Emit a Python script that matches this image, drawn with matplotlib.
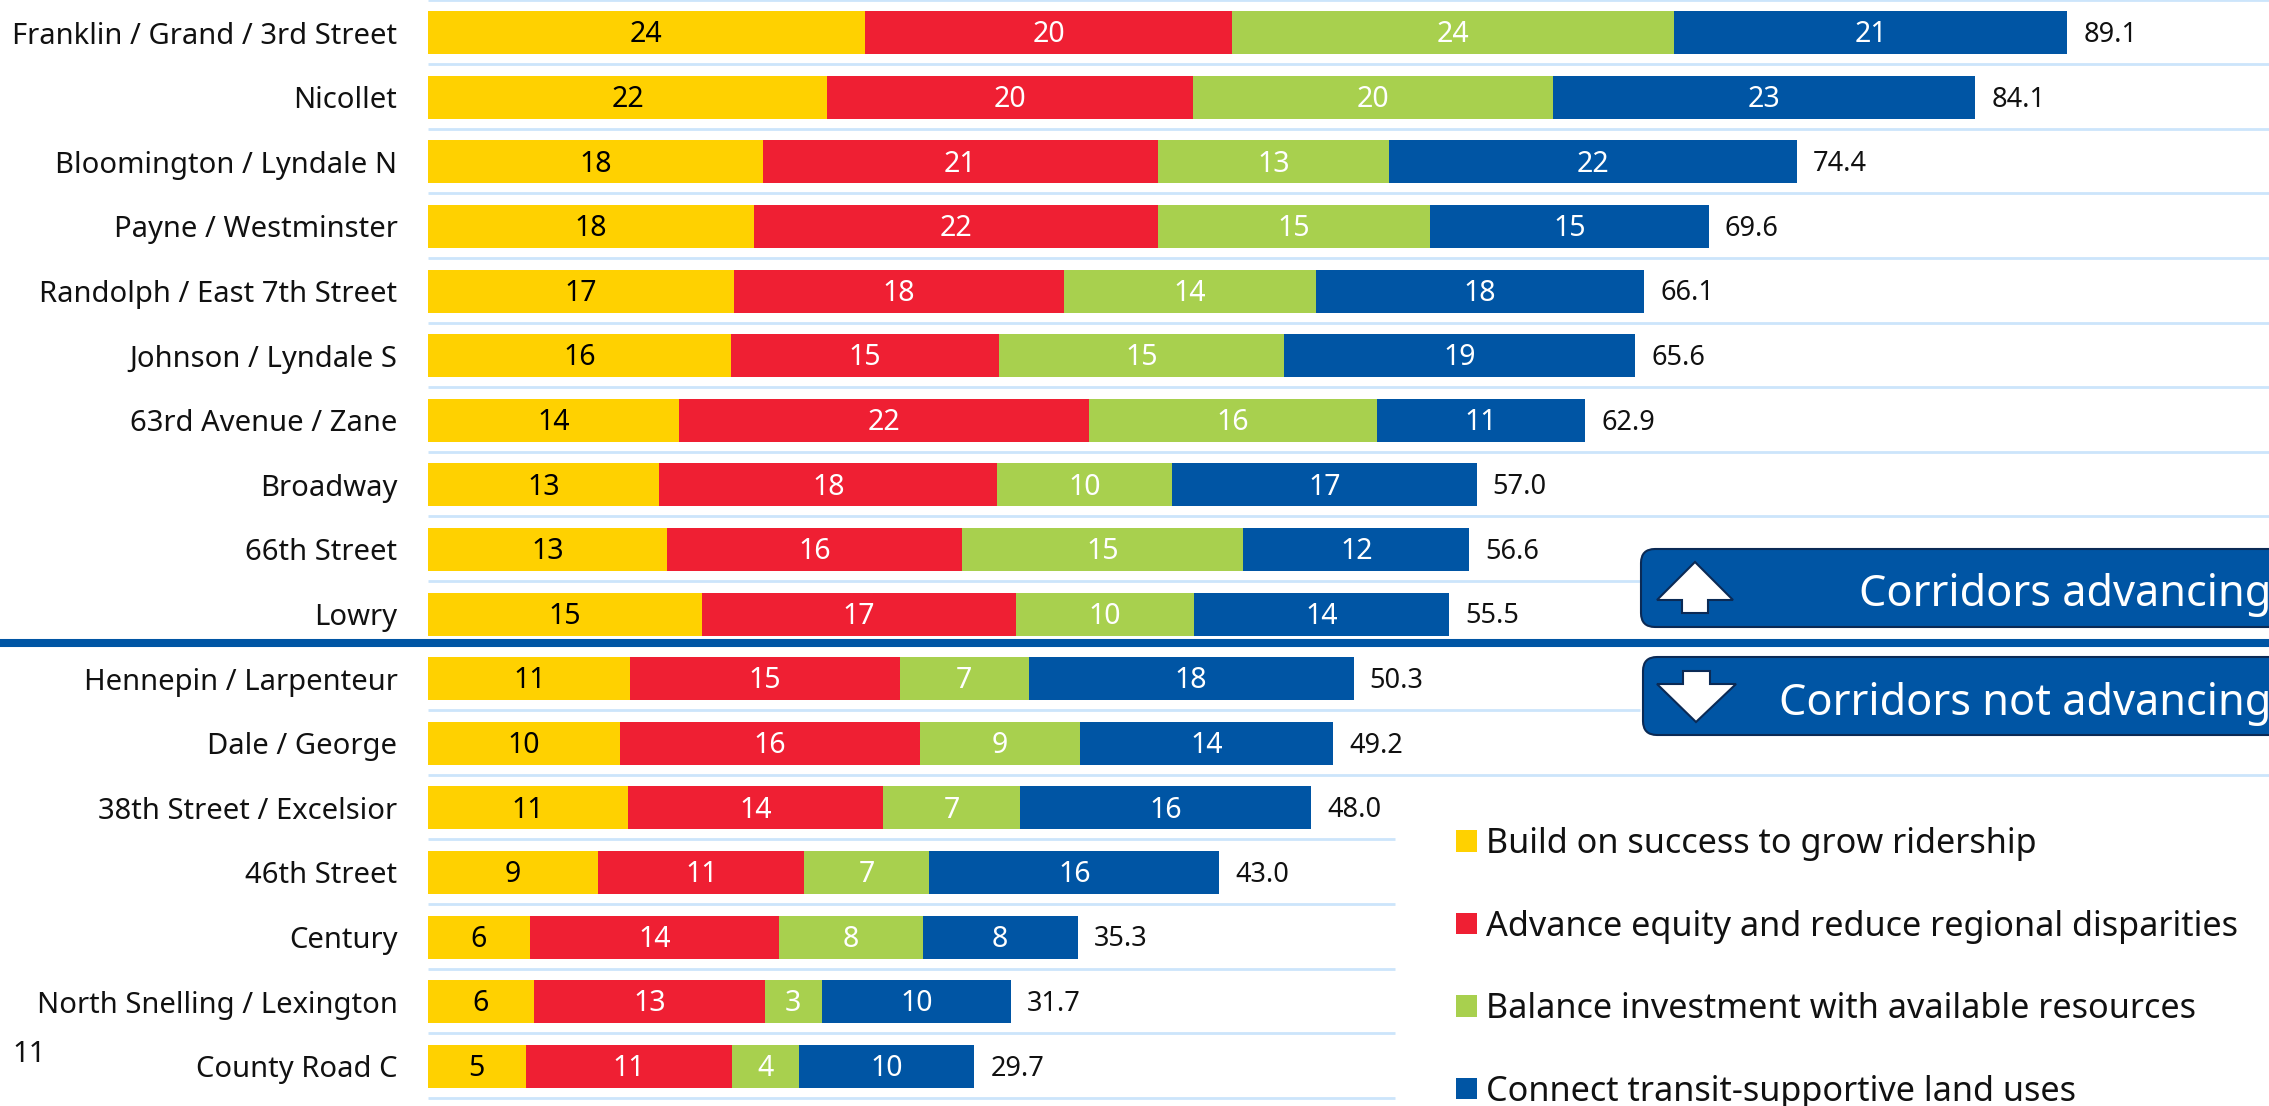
import matplotlib
matplotlib.use("Agg")
import matplotlib.pyplot as plt
from matplotlib.patches import FancyBboxPatch, Polygon, Patch
from matplotlib.transforms import Affine2D

W, H = 2269, 1106
corridors = ["Franklin / Grand / 3rd Street", "Nicollet", "Bloomington / Lyndale N", "Payne / Westminster",
             "Randolph / East 7th Street", "Johnson / Lyndale S", "63rd Avenue / Zane", "Broadway", "66th Street",
             "Lowry", "Hennepin / Larpenteur", "Dale / George", "38th Street / Excelsior", "46th Street", "Century",
             "North Snelling / Lexington", "County Road C"]
build = [23.74, 21.7, 18.2, 17.7, 16.65, 16.45, 13.65, 12.55, 13.0, 14.9, 11.0, 10.45, 10.85, 9.25, 5.55, 5.75, 5.3]
equity = [19.97, 19.9, 21.45, 21.95, 17.9, 14.6, 22.3, 18.4, 16.0, 17.05, 14.65, 16.3, 13.9, 11.2, 13.55, 12.55, 11.2]
balance = [24.03, 19.55, 12.6, 14.8, 13.7, 15.45, 15.6, 9.51, 15.3, 9.7, 7.0, 8.7, 7.4, 6.8, 7.8, 3.1, 3.65]
connect = [21.36, 22.95, 22.15, 15.15, 17.85, 19.1, 11.35, 16.54, 12.3, 13.85, 17.65, 13.75, 15.85, 15.75, 8.4, 10.3, 9.55]
totals = [89.1, 84.1, 74.4, 69.6, 66.1, 65.6, 62.9, 57.0, 56.6, 55.5, 50.3, 49.2, 48.0, 43.0, 35.3, 31.7, 29.7]
series_names = ["Build on success to grow ridership", "Advance equity and reduce regional disparities",
                "Balance investment with available resources", "Connect transit-supportive land uses"]
colors = ["#FFD100", "#EF1F33", "#A8D04E", "#0055A4"]
text_colors = ["black", "white", "white", "white"]
page_number = "11"
box_labels = ["Corridors advancing", "Corridors not advancing"]

plt.rcParams["font.family"] = ["Noto Sans", "DejaVu Sans"]
FS = 21

fig = plt.figure(figsize=(W / 100, H / 100), dpi=100)
ax = fig.add_axes([428 / W, 0, 1 - 428 / W, 1])
px_per_unit = 18.4
row_px, row0 = 64.6, 32.7
ax.set_xlim(0, (W - 428) / px_per_unit)
ax.set_ylim((H - row0) / row_px, -row0 / row_px)
for s in ax.spines.values():
    s.set_visible(False)
ax.xaxis.set_visible(False)
ax.set_yticks(range(len(corridors)), corridors, fontsize=FS, color="#111111")
ax.tick_params(axis="y", length=0, pad=22)

# pixel-based overlay transform for decorations
px = Affine2D().scale(1 / W, -1 / H).translate(0, 1) + fig.transFigure

grid_c = "#CCE5FB"
n = len(corridors)
for i in range(-1, n):
    if i == 9:
        continue
    right = W if i < 8 else (1640 if i in (8, 10) else (W if i == 11 else 1395))
    ax.plot([0, (right - 428) / px_per_unit], [i + 0.5 - 0.012] * 2, color=grid_c, lw=2.0,
            solid_capstyle="butt", zorder=1)

left = [0.0] * n
for vals, c, tc in zip([build, equity, balance, connect], colors, text_colors):
    ax.barh(range(n), vals, left=left, height=43 / row_px, color=c, zorder=2)
    for j, v in enumerate(vals):
        ax.text(left[j] + v / 2, j + 0.035, f"{v:.0f}", ha="center", va="center", color=tc,
                fontsize=20.5, zorder=3)
    left = [a + b for a, b in zip(left, vals)]
for j, t in enumerate(totals):
    ax.text(left[j] + 16 / px_per_unit, j + 0.035, f"{t:.1f}", ha="left", va="center", color="#111111",
            fontsize=19.5, zorder=3)

fig.add_artist(plt.Line2D([0, W], [643, 643], transform=px, color="#0055A4", lw=5.8, solid_capstyle="butt"))

for (x0, y0, y1) in [(1641, 549, 627), (1643, 657, 735)]:
    fig.add_artist(FancyBboxPatch((x0 + 14, y0 + 14), 800, y1 - y0 - 28, boxstyle="round,pad=14,rounding_size=14",
                                  transform=px, fc="#0055A4", ec="#0B2A55", lw=1.5, zorder=4))
up = [(1695, 562), (1733, 600), (1708, 600), (1708, 613), (1682, 613), (1682, 600), (1657, 600)]
down = [(1696, 722), (1736, 684), (1710, 684), (1710, 671), (1683, 671), (1683, 684), (1657, 684)]
for pts in (up, down):
    fig.add_artist(Polygon(pts, closed=True, transform=px, fc="white", ec="#0B2A55", lw=1.5, zorder=5))
for y, s in zip((595, 704), box_labels):
    fig.text(2271, y, s, transform=px, ha="right", va="center", color="white", fontsize=31.2, zorder=6)

handles = [Patch(fc=c, ec="none") for c in colors]
leg = fig.legend(handles, series_names, loc="upper left", bbox_to_anchor=(1456, 827), bbox_transform=px,
                 frameon=False, fontsize=24.6, handlelength=0.61, handleheight=0.61, handletextpad=0.27,
                 labelspacing=1.42, borderpad=0, borderaxespad=0, labelcolor="#111111")

fig.text(12, 1055, page_number, transform=px, ha="left", va="center", fontsize=21, color="#111111")

fig.savefig("out.png", dpi=100)
